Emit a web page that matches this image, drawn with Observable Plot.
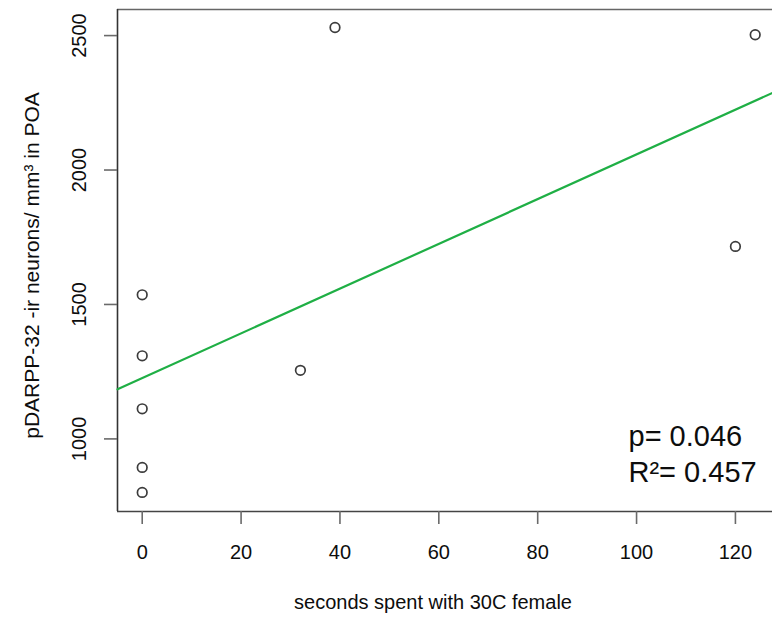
<!DOCTYPE html>
<html><head><meta charset="utf-8">
<script src="https://cdn.jsdelivr.net/npm/d3@7"></script>
<script src="https://cdn.jsdelivr.net/npm/@observablehq/plot@0.6"></script>
<style>
html,body{margin:0;padding:0;background:#fff;overflow:hidden}
</style></head><body><div id="chart"></div>
<script>
const seconds = [0, 0, 0, 0, 0, 32, 39, 120, 124];
const density = [1536, 1309, 1112, 894, 801, 1255, 2530, 1716, 2503];
const xTicks = [0, 20, 40, 60, 80, 100, 120];
const yTicks = [1000, 1500, 2000, 2500];
const xTitle = "seconds spent with 30C female";
const yTitle = "pDARPP-32 -ir neurons/ mm³ in POA";
const statsText = "p= 0.046\nR²= 0.457";
const xDomain = [-5.0, 127.5];
const yDomain = [730, 2597];

const data = seconds.map((s, i) => ({s, d: density[i]}));
const mx = d3.mean(seconds), my = d3.mean(density);
const slope = d3.sum(data, p => (p.s - mx) * (p.d - my)) / d3.sum(data, p => (p.s - mx) ** 2);
const intercept = my - slope * mx;
const fitLine = xDomain.map(x => ({s: x, d: intercept + slope * x}));

const font = "'Liberation Sans', Arial, Helvetica, sans-serif";
const ink = "#0d0d0d";
const chart = Plot.plot({
  width: 772, height: 618,
  marginLeft: 117, marginRight: 0, marginTop: 9, marginBottom: 107,
  style: {fontFamily: font, fontSize: "20px", background: "#fff", color: ink, overflow: "visible"},
  x: {domain: xDomain},
  y: {domain: yDomain},
  marks: [
    Plot.ruleY([yDomain[0]], {stroke: "#444", strokeWidth: 1.6}),
    Plot.ruleY([yDomain[1]], {stroke: "#666", strokeWidth: 1.6}),
    Plot.ruleX([xDomain[0]], {stroke: "#333", strokeWidth: 1.6}),
    Plot.axisX({ticks: xTicks, anchor: "bottom", tickSize: 13, tickPadding: 20, stroke: "#6a6a6a", strokeWidth: 1.6, fill: ink, fontSize: 20, label: null}),
    Plot.axisY({ticks: yTicks, anchor: "left", tickSize: 13, text: null, stroke: "#6a6a6a", strokeWidth: 1.6, label: null}),
    Plot.text(yTicks, {y: d => d, text: d => String(d), frameAnchor: "left", rotate: -90, textAnchor: "middle", lineAnchor: "bottom", dx: -32, fontSize: 20, fill: ink}),
    Plot.text([yTitle], {frameAnchor: "left", rotate: -90, textAnchor: "middle", lineAnchor: "bottom", dx: -79, dy: 5, fontSize: 21, fill: ink}),
    Plot.text([xTitle], {frameAnchor: "bottom", textAnchor: "middle", lineAnchor: "bottom", dx: -12, dy: 97, fontSize: 20, fill: ink}),
    Plot.text([statsText], {frameAnchor: "bottom-right", textAnchor: "start", lineAnchor: "bottom", dx: -144, dy: -30, lineHeight: 1.22, fontSize: 29, fill: ink}),
    Plot.line(fitLine, {x: "s", y: "d", stroke: "#1faf45", strokeWidth: 2.2}),
    Plot.dot(data, {x: "s", y: "d", r: 4.8, stroke: "#3c3c3c", strokeWidth: 1.7, fill: "none"})
  ]
});
document.getElementById("chart").appendChild(chart);
</script>
</body></html>
